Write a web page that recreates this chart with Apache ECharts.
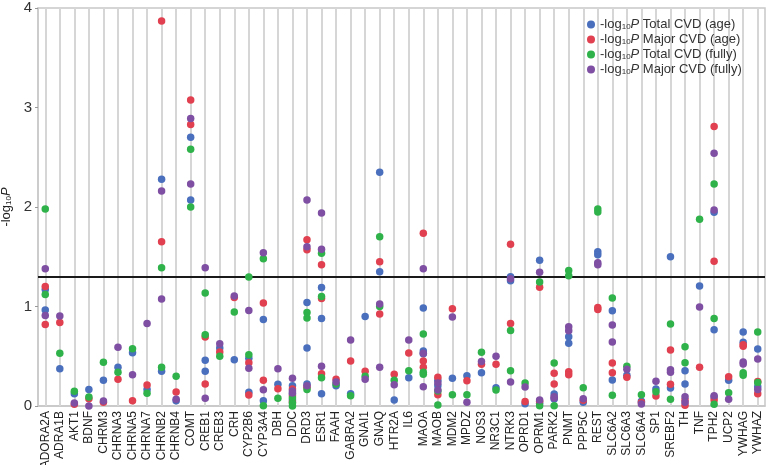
<!DOCTYPE html>
<html><head><meta charset="utf-8">
<script src="https://cdn.jsdelivr.net/npm/echarts@6/dist/echarts.min.js"></script>
<style>html,body{margin:0;padding:0;background:#fff}#c{width:766px;height:465px}</style>
</head><body><div id="c"></div>
<script>
const genes = ['ADORA2A','ADRA1B','AKT1','BDNF','CHRM3','CHRNA3','CHRNA5','CHRNA7','CHRNB2','CHRNB4','COMT','CREB1','CREB3','CRH','CYP2B6','CYP3A4','DBH','DDC','DRD3','ESR1','FAAH','GABRA2','GNAI1','GNAQ','HTR2A','IL6','MAOA','MAOB','MDM2','MPDZ','NOS3','NR3C1','NTRK3','OPRD1','OPRM1','PARK2','PNMT','PPP5C','REST','SLC6A2','SLC6A3','SLC6A4','SP1','SREBF2','TH','TNF','TPH2','UCP2','YWHAG','YWHAZ'];
const yTicks = [0, 1, 2, 3, 4];
const threshold = 1.3;

const totalAge = [[1.17,0.965],[0.375],[0.124],[0.167],[0.26],[0.39],[0.536],[0.167],[2.28,0.35],[0.054],[2.70,2.07],[0.46,0.35],[0.583],[0.466],[0.48,0.137],[0.87,0.054],[0.218],[0.204,0.12,0.06],[1.04,0.583,0.22],[1.19,0.88,0.124],[0.204],[0.124],[0.90],[2.35,1.35],[0.06],[0.285],[0.985,0.553,0.526],[0.26,0.204],[0.28],[0.305],[0.335],[0.184],[1.30,1.26],[0.023],[1.464,0.027],[0.12,0.07],[0.697,0.63],[0.037],[1.55,1.52],[0.958,0.261],[0.31],[0.047],[0.17],[1.50,0.18],[0.355,0.221],[1.206],[1.946,0.767,0.09],[0.258],[0.744,0.64],[0.573,0.194]];
const majorAge = [[1.20,0.82],[0.84],[0.017],[0.074],[0.037],[0.27],[0.054],[0.21],[3.87,1.65],[0.14],[3.075,2.83],[0.693,0.22],[0.543],[1.09],[0.435,0.11],[1.035,0.26],[0.174],[0.17,0.1,0.04],[1.67,1.57,0.188],[1.42,1.08,0.325],[0.27],[0.452],[0.348],[1.45,0.925],[0.318],[0.533],[1.735,0.452,0.39],[0.288,0.114],[0.978],[0.255],[0.42],[0.42],[1.625,0.83],[0.044],[1.193,0.047],[0.328,0.22],[0.345,0.315],[0.057],[0.99,0.97],[0.432,0.335],[0.288],[0.035],[0.1],[0.563,0.218],[0.06,0.007],[0.389],[2.81,1.454,0.06],[0.295],[0.616,0.6],[0.245,0.124]];
const totalFully = [[1.98,1.12],[0.53],[0.147],[0.09],[0.44],[0.34],[0.576],[0.127],[1.39,0.39],[0.30],[2.58,2.00],[1.135,0.717],[0.5],[0.945],[1.296,0.516],[1.48,0.003],[0.077],[0.08,0.03,0.0],[0.94,0.885,0.167],[1.535,1.10,0.285],[0.22],[0.104],[0.30],[1.70,1.0],[0.26],[0.355],[0.724,0.34,0.32],[0.15,0.01],[0.114],[0.114],[0.54],[0.16],[0.76,0.355],[0.23],[1.246,0.003],[0.432,0.003],[1.363,1.31],[0.184],[1.98,1.95],[1.085,0.107],[0.40],[0.114],[0.144],[0.824,0.067],[0.596,0.435],[1.876],[2.23,0.88,0.017],[0.134],[0.335,0.31],[0.744,0.235]];
const majorFully = [[1.38,0.91],[0.905],[0.03],[0.0],[0.05],[0.59],[0.315],[0.83],[2.16,1.075],[0.067],[2.89,2.23],[1.39,0.077],[0.626],[1.105],[0.96,0.38],[1.54,0.164],[0.375],[0.278,0.15,0.13],[2.07,1.60,0.204],[1.94,1.575,0.40],[0.24],[0.663],[0.268],[1.025,0.39],[0.214],[0.663],[1.38,0.53,0.194],[0.23,0.16],[0.894],[0.037],[0.446],[0.50],[1.28,0.24],[0.19],[1.343,0.06],[0.094,0.08],[0.797,0.757],[0.074],[1.44,1.42],[0.814,0.643],[0.37],[0.02],[0.25],[0.365,0.338],[0.094,0.037],[0.995],[2.54,1.97,0.104],[0.067],[0.442,0.422],[0.472,0.167]];

const seriesNames = ['Total CVD (age)','Major CVD (age)','Total CVD (fully)','Major CVD (fully)'];
const seriesColors = ['#4a6fbd','#e0404f','#2fb24a','#7e4fa2'];
const seriesValues = [totalAge, majorAge, totalFully, majorFully];

function pairs(vals){
  const out = [];
  genes.forEach((g,i)=>{ (vals[i]||[]).forEach(v=>out.push([g,v])); });
  return out;
}

const chart = echarts.init(document.getElementById('c'), null, {renderer:'canvas'});
const FONT = 'Liberation Sans, Arial, sans-serif';
const guideStyle = {color:'#d6d6d6', width:2, type:'solid'};
const threshStyle = {color:'#1a1a1a', width:2, type:'solid'};
const series = [{
  name:'guides', type:'line', data:[], z:1, silent:true, lineStyle:guideStyle,
  markLine:{silent:true, z:1, symbol:['none','none'], animation:false, label:{show:false},
    lineStyle:guideStyle, emphasis:{disabled:true},
    data: genes.map(g=>({xAxis:g, lineStyle:guideStyle}))}
},{
  name:'thresh', type:'line', data:[], z:3, silent:true, lineStyle:threshStyle,
  markLine:{silent:true, z:3, symbol:['none','none'], animation:false, label:{show:false},
    lineStyle:threshStyle, emphasis:{disabled:true},
    data:[{yAxis:threshold, lineStyle:threshStyle}]}
}];
seriesNames.forEach((n,k)=>series.push({
  name:n, type:'scatter', data:pairs(seriesValues[k]), symbol:'circle', symbolSize:7.5,
  itemStyle:{color:seriesColors[k], opacity:1}, z:5+k
}));

chart.setOption({
  animation:false,
  textStyle:{fontFamily:FONT},
  grid:{left:38, right:1, top:8, bottom:59, outerBoundsMode:'none', containLabel:false,
        show:true, borderColor:'#c8c8c8', borderWidth:1.5},
  legend:{
    data:seriesNames, orient:'vertical', left:582, top:13,
    icon:'circle', itemWidth:8, itemHeight:8, itemGap:2,
    formatter: n=>'-log{sub|10}{it|P} '+n,
    textStyle:{fontSize:13, color:'#333', fontFamily:FONT, lineHeight:12,
      rich:{sub:{fontSize:8, verticalAlign:'bottom', padding:[6,0,0,0], color:'#333', fontFamily:FONT},
            it:{fontStyle:'italic', fontSize:13, color:'#333', fontFamily:FONT}}}
  },
  xAxis:{
    type:'category', data:genes, boundaryGap:true,
    axisLine:{show:true, lineStyle:{color:'#c8c8c8', width:1.5}},
    axisTick:{show:false},
    splitLine:{show:false},
    axisLabel:{rotate:90, interval:0, fontSize:12, color:'#222', margin:5, fontFamily:FONT}
  },
  yAxis:{
    type:'value', min:yTicks[0], max:yTicks[yTicks.length-1], interval:1,
    name:'-log{sub|10}{it|P}', nameLocation:'middle', nameGap:22, nameRotate:90,
    nameTextStyle:{fontSize:13, color:'#222', fontFamily:FONT,
      rich:{sub:{fontSize:8, color:'#222', padding:[0,0,0,0], verticalAlign:'bottom', fontFamily:FONT},
            it:{fontStyle:'italic', fontSize:13, color:'#222', fontFamily:FONT}}},
    axisLine:{show:true, lineStyle:{color:'#c8c8c8', width:1.5}},
    axisTick:{show:true, length:3, lineStyle:{color:'#999'}},
    splitLine:{show:false},
    axisLabel:{fontSize:15, color:'#333', margin:6, fontFamily:FONT}
  },
  series:series
});
</script></body></html>
